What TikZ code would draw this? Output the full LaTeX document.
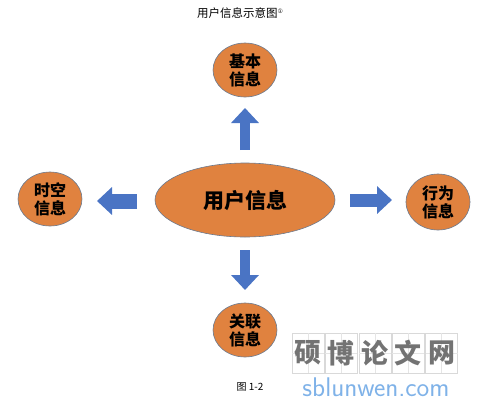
\documentclass[tikz,border=0pt]{standalone}
\usepackage{fontspec}
\newfontfamily\cjk{Noto Sans CJK SC}
\newfontfamily\symfont{DejaVu Sans}
\usepackage{tikz}
\usetikzlibrary{arrows.meta, positioning, shapes.geometric}
\definecolor{infoorange}{HTML}{E0823F}
\definecolor{infoedge}{HTML}{6B7A8F}
\definecolor{arrowblue}{HTML}{4A74C4}
\definecolor{wmblue}{HTML}{7FB2E8}

\tikzset{
	info/.style={ellipse, draw=infoedge, line width=0.6pt, fill=infoorange, inner sep=0pt,
		minimum width=64pt, minimum height=54pt, align=center, font=\cjk\bfseries\fontsize{16}{18}\selectfont},
	blockarrow/.style={arrowblue, line width=#1, -{Triangle[length=15pt,width=27pt]}},
	blockarrow/.default=11pt
}

\begin{document}
\begin{tikzpicture}[x=1pt,y=-1pt]
	\useasboundingbox (0,0) rectangle (479,405);
	
	\node[font=\cjk\fontsize{11.5}{13}\selectfont] (title) at (240,13) {用户信息示意图\raisebox{4pt}{\symfont\fontsize{6}{6}\selectfont ①}};
	
	\node[info, minimum width=180pt, minimum height=74pt, font=\cjk\bfseries\fontsize{21}{23}\selectfont] (user) at (245,200) {用户信息};
	\node[info] (basic) at (245,70) {基本\\信息};
	\node[info] (space) at (50,199) {时空\\信息};
	\node[info, minimum height=56pt] (act) at (438,202) {行为\\信息};
	\node[info] (rel) at (245,330) {关联\\信息};
	
	% block arrows
	\coordinate (upA) at (245,150);
	\coordinate (upB) at (245,108);
	\coordinate (leftA) at (137,201);
	\coordinate (leftB) at (97,201);
	\coordinate (rightA) at (350,200);
	\coordinate (rightB) at (392,200);
	\coordinate (downA) at (245,250);
	\coordinate (downB) at (245,290);
	\draw[blockarrow=10pt] (upA) -- (upB);
	\draw[blockarrow=15pt] (leftA) -- (leftB);
	\draw[blockarrow=13pt] (rightA) -- (rightB);
	\draw[blockarrow=10pt] (downA) -- (downB);
	
	\node[font=\cjk\fontsize{10}{12}\selectfont] (caption) at (250,387) {图 1-2};
	
	% watermark
	\foreach \ch [count=\i] in {硕,博,论,文,网}{
		\pgfmathsetmacro{\wx}{292+(\i-1)*33.4}
		\draw[black!15, line width=0.5pt] (\wx,333) rectangle ++(32,40);
		\draw[black!10, line width=0.3pt] (\wx+16,333) -- ++(0,40) (\wx,353) -- ++(32,0);
		\node[font=\cjk\bfseries\fontsize{27}{29}\selectfont, text=black!55] (wm\i) at (\wx+16,353) {\ch};
	}
	\node[font=\sffamily\fontsize{27}{29}\selectfont, text=wmblue] (site) at (376,387) {sblunwen.com};
	
\end{tikzpicture}
\end{document}
